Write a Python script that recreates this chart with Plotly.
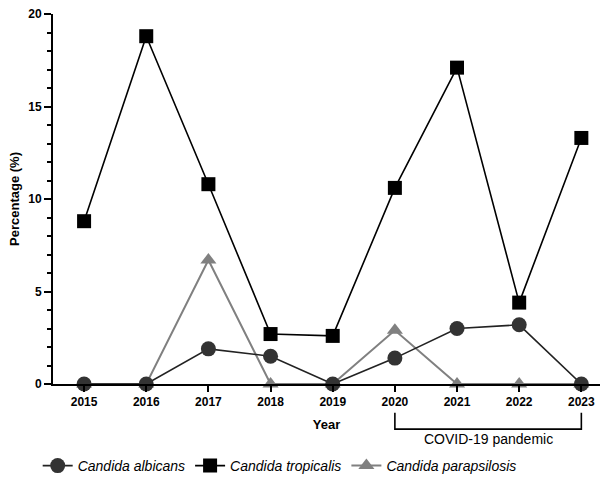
import plotly.graph_objects as go

years = [2015, 2016, 2017, 2018, 2019, 2020, 2021, 2022, 2023]
albicans = [0, 0, 1.9, 1.5, 0, 1.4, 3.0, 3.2, 0]
tropicalis = [8.8, 18.8, 10.8, 2.7, 2.6, 10.6, 17.1, 4.4, 13.3]
parapsilosis = [0, 0, 6.7, 0, 0, 2.9, 0, 0, 0]
covid_label = "COVID-19 pandemic"
covid_start, covid_end = years[5], years[-1]

FONT = "Liberation Sans, Arial, sans-serif"

fig = go.Figure()
fig.add_trace(go.Scatter(
    x=years, y=parapsilosis, name="<i>Candida parapsilosis</i>", mode="lines+markers",
    line=dict(color="#808080", width=2),
    marker=dict(symbol="triangle-up", size=14, color="#808080"),
    cliponaxis=False, legendrank=3))
fig.add_trace(go.Scatter(
    x=years, y=albicans, name="<i>Candida albicans</i>", mode="lines+markers",
    line=dict(color="#222222", width=1.6),
    marker=dict(symbol="circle", size=15, color="#333333"),
    cliponaxis=False, legendrank=1))
fig.add_trace(go.Scatter(
    x=years, y=tropicalis, name="<i>Candida tropicalis</i>", mode="lines+markers",
    line=dict(color="#000000", width=1.6),
    marker=dict(symbol="square", size=14, color="#000000"),
    cliponaxis=False, legendrank=2))

# COVID bracket
fig.add_shape(type="path", xref="x", yref="paper",
              path=f"M {covid_start},-0.078 L {covid_start},-0.122 L {covid_end},-0.122 L {covid_end},-0.078",
              line=dict(color="black", width=1.6))
fig.add_annotation(x=(covid_start + covid_end) / 2, y=-0.148, xref="x", yref="paper",
                   text=covid_label, showarrow=False, yanchor="middle",
                   font=dict(family=FONT, size=14, color="black"))

fig.update_layout(
    width=612, height=477,
    margin=dict(l=53, r=12, t=14, b=93, autoexpand=False),
    plot_bgcolor="white", paper_bgcolor="white",
    font=dict(family=FONT, color="black"),
    legend=dict(orientation="h", xref="container", yref="container",
                x=0.457, xanchor="center", y=(477 - 466) / 477, yanchor="middle",
                font=dict(family=FONT, size=14, color="black"), itemwidth=30,
                traceorder="normal"),
    xaxis=dict(range=[2014.5, 2023.3], tickvals=years, ticktext=[f"<b>{y}</b>" for y in years],
               showline=True, linecolor="black", linewidth=2, ticks="outside", ticklen=6,
               tickwidth=2, tickcolor="black", showgrid=False, zeroline=False,
               tickfont=dict(family=FONT, size=12), automargin=False,
               title=dict(text="<b>Year</b>", font=dict(family=FONT, size=13), standoff=11)),
    yaxis=dict(range=[0, 20], tickvals=[0, 5, 10, 15, 20],
               ticktext=["<b>0</b>", "<b>5</b>", "<b>10</b>", "<b>15</b>", "<b>20</b>"],
               showline=True, linecolor="black", linewidth=2, ticks="outside", ticklen=7,
               tickwidth=2, tickcolor="black", showgrid=False, zeroline=False,
               minor=dict(dtick=1, ticks="outside", ticklen=4, tickwidth=2, tickcolor="black"),
               tickfont=dict(family=FONT, size=12), automargin=False,
               title=dict(text="<b>Percentage (%)</b>", font=dict(family=FONT, size=13), standoff=6)),
)

fig.write_html("out.html", config={"displayModeBar": False},
               post_script="document.body.style.margin='0px';document.body.style.padding='0px';")
